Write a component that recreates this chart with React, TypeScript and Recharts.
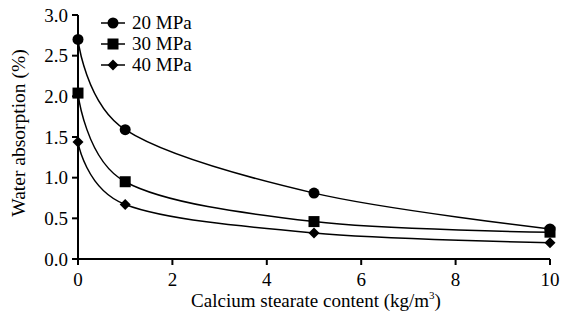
import React from "react";
import { Line, LineChart, XAxis, YAxis } from "recharts";

// calcium stearate content, kg/m3
const contents = [0, 1, 5, 10];
const absorption20 = [2.7, 1.59, 0.81, 0.37];
const absorption30 = [2.04, 0.95, 0.46, 0.33];
const absorption40 = [1.44, 0.67, 0.32, 0.2];

const xTicks = [0, 2, 4, 6, 8, 10];
const yTicks = [0, 0.5, 1, 1.5, 2, 2.5, 3];

const seriesNames = ["20 MPa", "30 MPa", "40 MPa"];
const markers = ["circle", "square", "diamond"];

const data = contents.map((c, i) => ({
  content: c,
  mpa20: absorption20[i],
  mpa30: absorption30[i],
  mpa40: absorption40[i],
}));

const textStyle = { fontFamily: "Liberation Serif", fontSize: 19, fill: "#000" };

// Excel-like smoothed line (cardinal spline, tension 0)
function cardinalPoint(that: any, x: number, y: number) {
  that._context.bezierCurveTo(
    that._x1 + that._k * (that._x2 - that._x0),
    that._y1 + that._k * (that._y2 - that._y0),
    that._x2 + that._k * (that._x1 - x),
    that._y2 + that._k * (that._y1 - y),
    that._x2,
    that._y2
  );
}

class Cardinal {
  _context: any;
  _k = 1 / 6;
  _line = NaN;
  _point = 0;
  _x0 = NaN;
  _x1 = NaN;
  _x2 = NaN;
  _y0 = NaN;
  _y1 = NaN;
  _y2 = NaN;
  constructor(context: any) {
    this._context = context;
  }
  areaStart() {
    this._line = 0;
  }
  areaEnd() {
    this._line = NaN;
  }
  lineStart() {
    this._x0 = this._x1 = this._x2 = this._y0 = this._y1 = this._y2 = NaN;
    this._point = 0;
  }
  lineEnd() {
    switch (this._point) {
      case 2:
        this._context.lineTo(this._x2, this._y2);
        break;
      case 3:
        cardinalPoint(this, this._x1, this._y1);
        break;
    }
    if (this._line || (this._line !== 0 && this._point === 1)) this._context.closePath();
    this._line = 1 - this._line;
  }
  point(x: number, y: number) {
    x = +x;
    y = +y;
    switch (this._point) {
      case 0:
        this._point = 1;
        this._line ? this._context.lineTo(x, y) : this._context.moveTo(x, y);
        break;
      case 1:
        this._point = 2;
        this._x1 = x;
        this._y1 = y;
        break;
      case 2:
        this._point = 3;
        cardinalPoint(this, x, y);
        break;
      default:
        cardinalPoint(this, x, y);
        break;
    }
    this._x0 = this._x1;
    this._x1 = this._x2;
    this._x2 = x;
    this._y0 = this._y1;
    this._y1 = this._y2;
    this._y2 = y;
  }
}

const smoothCurve: any = (context: any) => new Cardinal(context);

function Marker({ kind, cx, cy }: { kind: string; cx: number; cy: number }) {
  if (kind === "circle") return <circle cx={cx} cy={cy} r={5.5} fill="#000" />;
  if (kind === "square") return <rect x={cx - 5.5} y={cy - 5.5} width={11} height={11} fill="#000" />;
  return (
    <polygon
      points={`${cx},${cy - 5.5} ${cx + 5.5},${cy} ${cx},${cy + 5.5} ${cx - 5.5},${cy}`}
      fill="#000"
    />
  );
}

function dotFor(kind: string) {
  return (props: any) => <Marker key={`${kind}-${props.index}`} kind={kind} cx={props.cx} cy={props.cy} />;
}

function XTick(props: any) {
  return (
    <text x={props.x} y={props.y} dy="0.71em" textAnchor="middle" style={textStyle}>
      {props.payload.value}
    </text>
  );
}

function YTick(props: any) {
  return (
    <text x={props.x} y={props.y} dy="0.35em" textAnchor="end" style={textStyle}>
      {Number(props.payload.value).toFixed(1)}
    </text>
  );
}

function XLabel() {
  return (
    <text x={316} y={307} textAnchor="middle" style={textStyle}>
      Calcium stearate content (kg/m
      <tspan dy={-8} style={{ fontSize: 11 }}>
        3
      </tspan>
      <tspan dy={8}>)</tspan>
    </text>
  );
}

function YLabel() {
  return (
    <text transform="translate(25, 133) rotate(-90)" textAnchor="middle" style={{ ...textStyle, fontSize: 19.5 }}>
      Water absorption (%)
    </text>
  );
}

function LegendBox() {
  return (
    <svg width={110} height={80} style={{ position: "absolute", left: 101, top: 0 }}>
      {seriesNames.map((name, i) => (
        <g key={name} transform={`translate(0, ${23 + i * 21})`}>
          <line x1={0} x2={24} y1={0} y2={0} stroke="#000" strokeWidth={1.5} />
          <Marker kind={markers[i]} cx={12} cy={0} />
          <text x={31} y={6} style={textStyle}>
            {name}
          </text>
        </g>
      ))}
    </svg>
  );
}

export default function App() {
  return (
    <div style={{ position: "absolute", left: 0, top: 0, width: 561, height: 318, background: "#fff" }}>
      <LineChart width={561} height={318} data={data} margin={{ top: 15, right: 11, bottom: 9, left: 0 }}>
        <XAxis
          dataKey="content"
          type="number"
          domain={[0, 10]}
          ticks={xTicks}
          height={50}
          axisLine={{ stroke: "#000", strokeWidth: 2 }}
          tickLine={{ stroke: "#000", strokeWidth: 2 }}
          tickSize={6}
          tickMargin={8}
          tick={<XTick />}
          label={<XLabel />}
        />
        <YAxis
          type="number"
          domain={[0, 3]}
          ticks={yTicks}
          width={78}
          axisLine={{ stroke: "#000", strokeWidth: 2 }}
          tickLine={{ stroke: "#000", strokeWidth: 2 }}
          tickSize={6}
          tickMargin={4}
          tick={<YTick />}
          label={<YLabel />}
        />
        <Line
          dataKey="mpa20"
          type={smoothCurve}
          stroke="#000"
          strokeWidth={1.5}
          dot={dotFor("circle")}
          isAnimationActive={false}
        />
        <Line
          dataKey="mpa30"
          type={smoothCurve}
          stroke="#000"
          strokeWidth={1.5}
          dot={dotFor("square")}
          isAnimationActive={false}
        />
        <Line
          dataKey="mpa40"
          type={smoothCurve}
          stroke="#000"
          strokeWidth={1.5}
          dot={dotFor("diamond")}
          isAnimationActive={false}
        />
      </LineChart>
      <LegendBox />
    </div>
  );
}
